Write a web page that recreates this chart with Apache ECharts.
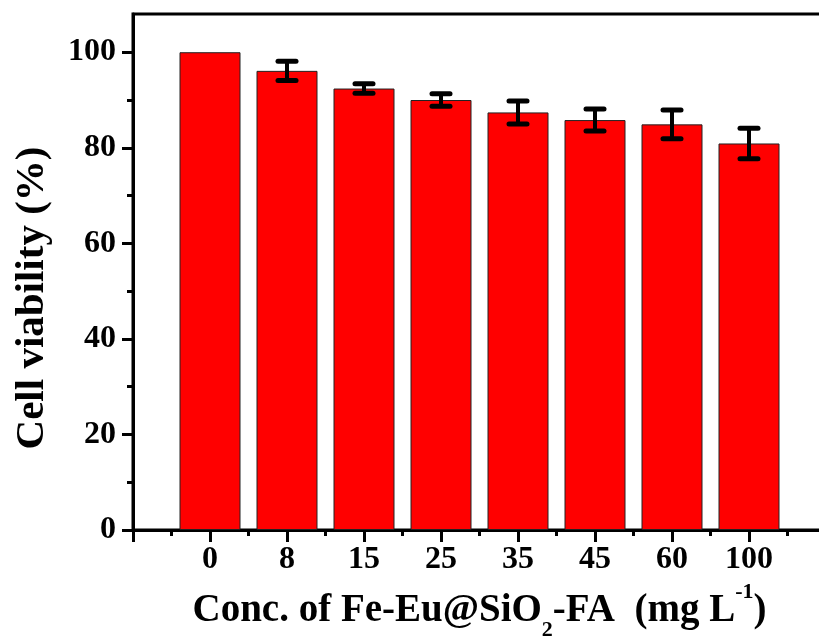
<!DOCTYPE html>
<html>
<head>
<meta charset="utf-8">
<script src="https://cdn.jsdelivr.net/npm/echarts@6/dist/echarts.min.js"></script>
<style>html,body{margin:0;padding:0;background:#fff;}#c{width:819px;height:637px;}</style>
</head>
<body>
<div id="c"></div>
<script>
var categories = ['0', '8', '15', '25', '35', '45', '60', '100'];
var viability = [100, 96.1, 92.4, 90.0, 87.4, 85.8, 84.9, 80.9];
var errors = [0, 2.0, 1.0, 1.3, 2.4, 2.3, 3.0, 3.2];
var yMajorTicks = [0, 20, 40, 60, 80, 100];
var yMinorTicks = [10, 30, 50, 70, 90];

var FONT = 'Liberation Serif, Times New Roman, serif';
var barData = viability.map(function (v, i) { return [i, v]; });
var errData = viability.map(function (v, i) { return [i, v - errors[i], v + errors[i]]; });

var chart = echarts.init(document.getElementById('c'), null, {renderer: 'canvas'});
chart.setOption({
  animation: false,
  backgroundColor: '#fff',
  grid: {left: 133, top: 14, right: -7, bottom: 107, outerBoundsMode: 'none', containLabel: false,
         show: true, borderColor: '#000', borderWidth: 3, backgroundColor: 'transparent'},
  xAxis: {
    type: 'value', min: -1, max: 8, interval: 1,
    axisLine: {onZero: false, lineStyle: {color: '#000', width: 3}},
    axisTick: {show: true, length: 12, lineStyle: {color: '#000', width: 3}},
    minorTick: {show: true, splitNumber: 2, length: 6, lineStyle: {color: '#000', width: 3}},
    splitLine: {show: false},
    axisLabel: {
      color: '#000', fontFamily: FONT, fontWeight: 'bold', fontSize: 32, margin: 14,
      formatter: function (v) { return (v >= 0 && v < categories.length && v === Math.round(v)) ? categories[v] : ''; }
    },
    name: '{t|Conc. of Fe-Eu@SiO}{sub|2}{t|-FA  (mg L}{sup|-1}{t|)}',
    nameLocation: 'middle', nameGap: 50,
    nameTextStyle: {
      color: '#000', fontFamily: FONT, fontWeight: 'bold', fontSize: 39,
      rich: {
        t: {fontFamily: FONT, fontWeight: 'bold', fontSize: 39, lineHeight: 44, color: '#000', verticalAlign: 'middle'},
        sub: {fontFamily: FONT, fontWeight: 'bold', fontSize: 22, lineHeight: 22, color: '#000', padding: [38, 0, 0, 0], verticalAlign: 'middle'},
        sup: {fontFamily: FONT, fontWeight: 'bold', fontSize: 22, lineHeight: 22, color: '#000', padding: [0, 0, 38, 0], verticalAlign: 'middle'}
      }
    }
  },
  yAxis: [{
    type: 'value', min: 0, max: 108, position: 'left',
    axisLine: {onZero: false, lineStyle: {color: '#000', width: 3}},
    axisTick: {show: true, length: 11, customValues: yMajorTicks, lineStyle: {color: '#000', width: 3}},
    splitLine: {show: false},
    axisLabel: {color: '#000', fontFamily: FONT, fontWeight: 'bold', fontSize: 32, margin: 17, customValues: yMajorTicks},
    name: 'Cell viability (%)', nameLocation: 'middle', nameGap: 80, nameRotate: 90,
    nameTextStyle: {color: '#000', fontFamily: FONT, fontWeight: 'bold', fontSize: 41, lineHeight: 41, padding: [0, 52, 0, 0]}
  }, {
    type: 'value', min: 0, max: 108, position: 'left', offset: 0,
    axisLine: {show: false, onZero: false},
    axisTick: {show: true, length: 6, customValues: yMinorTicks, lineStyle: {color: '#000', width: 3}},
    splitLine: {show: false},
    axisLabel: {show: false}
  }],
  series: [{
    type: 'bar', data: barData, barWidth: 61,
    itemStyle: {color: '#ff0000', borderColor: '#222', borderWidth: 1}
  }, {
    type: 'custom', data: errData, z: 5,
    renderItem: function (params, api) {
      var x = api.value(0), lo = api.value(1), hi = api.value(2);
      if (hi - lo <= 0) return {type: 'group', children: []};
      var pLo = api.coord([x, lo]), pHi = api.coord([x, hi]);
      var hw = 9;
      var st = {stroke: '#000', lineWidth: 5, lineCap: 'round'};
      return {type: 'group', children: [
        {type: 'line', shape: {x1: pLo[0], y1: pLo[1], x2: pHi[0], y2: pHi[1]}, style: {stroke: '#000', lineWidth: 4}},
        {type: 'line', shape: {x1: pHi[0] - hw, y1: pHi[1], x2: pHi[0] + hw, y2: pHi[1]}, style: st},
        {type: 'line', shape: {x1: pLo[0] - hw, y1: pLo[1], x2: pLo[0] + hw, y2: pLo[1]}, style: st}
      ]};
    }
  }]
});
</script>
</body>
</html>
